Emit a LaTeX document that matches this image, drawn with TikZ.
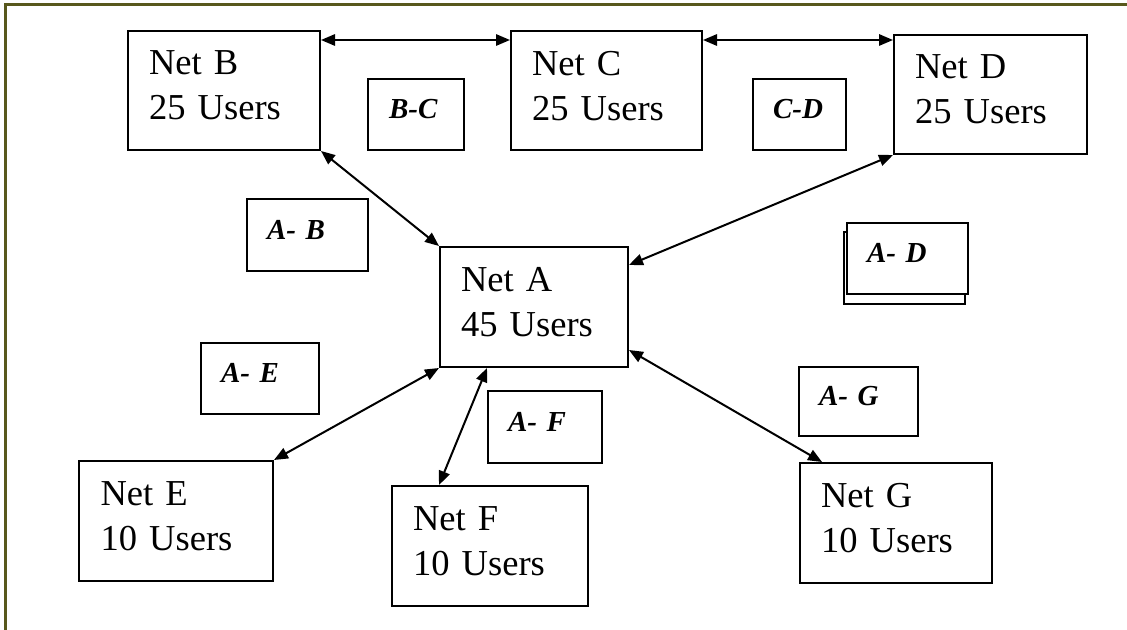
\documentclass[tikz,border=0pt]{standalone}
\usepackage{fontspec}
\setmainfont{Liberation Serif}
\usetikzlibrary{arrows.meta}
\definecolor{framecol}{RGB}{88,88,28}
\begin{document}
\begin{tikzpicture}[x=0.75pt,y=-0.75pt,
  netbox/.style={draw, line width=1.5pt, rectangle, anchor=north west, align=left,
    inner xsep=15.75pt, inner ysep=0pt, text depth=41.25pt,
    font=\fontsize{27.4pt}{33.75pt}\selectfont},
  lblbox/.style={draw, line width=1.5pt, rectangle, anchor=north west, align=left,
    inner xsep=15pt, inner ysep=0pt, text depth=8.25pt, fill=white,
    font=\fontsize{21.75pt}{26pt}\selectfont\bfseries\itshape},
  conn/.style={line width=1.5pt,
    {Triangle[length=10.5pt,width=8.5pt]}-{Triangle[length=10.5pt,width=8.5pt]}}]
\useasboundingbox (0,0) rectangle (1127,630);
\draw[framecol, line width=1.6pt] (5.5,630) -- (5.5,4.5) -- (1127,4.5);

% network boxes
\node[netbox, minimum width=144pt, minimum height=89.25pt, text width=112.5pt] (B) at (127,30) {Net B\\25 Users};
\node[netbox, minimum width=143.25pt, minimum height=89.25pt, text width=111.75pt] (C) at (510,30) {Net C\\25 Users};
\node[netbox, minimum width=144pt, minimum height=89.25pt, text width=113.25pt] (D) at (893,34) {Net D\\25 Users};
\node[netbox, minimum width=141pt, minimum height=90pt, text width=109.5pt] (A) at (439,246) {Net A\\45 Users};
\node[netbox, minimum width=145.5pt, minimum height=90pt, text width=113.25pt] (E) at (78,460) {Net E\\10 Users};
\node[netbox, minimum width=147pt, minimum height=90pt, text width=115.5pt] (F) at (391,485) {Net F\\10 Users};
\node[netbox, minimum width=144pt, minimum height=90pt, text width=112.5pt] (G) at (799,462) {Net G\\10 Users};

% link labels
\node[lblbox, minimum width=72pt, minimum height=53.25pt, text width=40.5pt] (BC) at (367,78) {B-C};
\node[lblbox, minimum width=69.75pt, minimum height=53.25pt, text width=39.75pt] (CD) at (752,78) {C-D};
\node[lblbox, minimum width=90.75pt, minimum height=54pt, text width=60.75pt] (AB) at (246,198) {A- B};
\node[draw, line width=1.5pt, rectangle, anchor=north west, minimum width=90.75pt, minimum height=54pt, inner sep=0pt] (ADback) at (843,231) {};
\node[lblbox, minimum width=90.75pt, minimum height=53.25pt, text width=60.75pt] (AD) at (846,222) {A- D};
\node[lblbox, minimum width=88.5pt, minimum height=53.25pt, text width=58.5pt] (AE) at (200,342) {A- E};
\node[lblbox, minimum width=85.5pt, minimum height=54pt, text width=55.5pt] (AF) at (487,390) {A- F};
\node[lblbox, minimum width=89.25pt, minimum height=51.75pt, text width=59.25pt] (AG) at (798,366) {A- G};

% connectors
\draw[conn] ([shift={(0,10)}]B.north east) -- ([shift={(0,10)}]C.north west);
\draw[conn] ([shift={(0,10)}]C.north east) -- ([shift={(0,6)}]D.north west);
\draw[conn] (B.south east) -- (A.north west);
\draw[conn] (D.south west) -- ([shift={(0,19)}]A.north east);
\draw[conn] (E.north east) -- (A.south west);
\draw[conn] ([shift={(48,0)}]F.north west) -- ([shift={(48,0)}]A.south west);
\draw[conn] ([shift={(0,-18)}]A.south east) -- ([shift={(23,0)}]G.north west);
\end{tikzpicture}
\end{document}
